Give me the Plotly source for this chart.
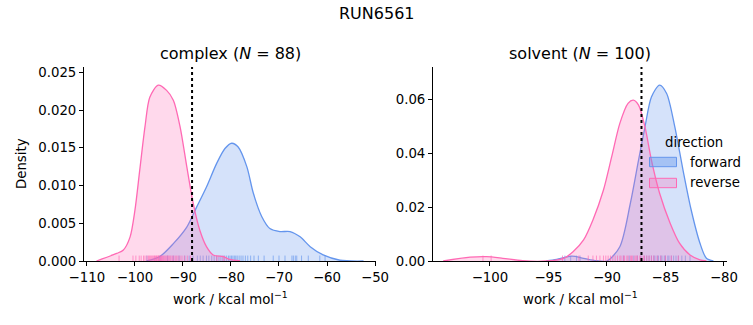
import plotly.graph_objects as go

# ---------------- data ----------------
title_text = "RUN6561"
panel_names = ["complex", "solvent"]
panel_n = [88, 100]
directions = ["forward", "reverse"]

# KDE curves: complex
cx_fwd_x = [-97.6, -94.8, -92.0, -89.2, -87.1, -85.1, -83.0, -81.25, -79.85, -78.5, -76.7, -75.35,
            -73.6, -71.9, -69.8, -67.7, -65.6, -63.5, -60.8, -57.3, -52.4]
cx_fwd_y = [0.0, 0.0006, 0.0023, 0.0045, 0.0072, 0.0098, 0.0129, 0.0149, 0.0156, 0.0151, 0.0125, 0.0090,
            0.0059, 0.0043, 0.0039, 0.0039, 0.0032, 0.0019, 0.0008, 0.0001, 0.0]
cx_rev_x = [-108.0, -103.8, -102.4, -101.0, -100.0, -99.0, -97.9, -96.9, -95.15, -93.4, -92.0, -90.6,
            -89.2, -87.85, -86.5, -85.1, -83.7, -81.6, -80.2, -78.1]
cx_rev_y = [0.0, 0.0010, 0.00146, 0.0032, 0.0067, 0.0120, 0.0178, 0.0217, 0.0233, 0.0226, 0.0213, 0.0178,
            0.0125, 0.0076, 0.0041, 0.0019, 0.0008, 0.00057, 0.0002, 0.0]

# KDE curves: solvent
sv_fwd_x = [-95.2, -94.3, -93.0, -92.0, -90.9, -90.0, -88.9, -88.0, -87.3, -86.75, -86.2, -85.5,
            -84.9, -84.2, -83.5, -82.8, -82.05, -81.5, -80.9]
sv_fwd_y = [0.0, 0.0006, 0.0018, 0.0010, 0.0001, 0.0, 0.0053, 0.0214, 0.0374, 0.0497, 0.0608, 0.0652,
            0.0621, 0.0497, 0.0337, 0.0189, 0.0066, 0.0010, 0.0]
sv_rev_x = [-104.0, -101.7, -100.3, -98.9, -97.2, -95.2, -93.7, -92.9, -92.0, -91.2, -90.3, -89.6,
            -88.9, -88.2, -87.75, -87.3, -86.75, -86.2, -85.5, -84.6, -83.8, -82.9, -82.05, -81.5]
sv_rev_y = [0.0, 0.0014, 0.0016, 0.0010, 0.0001, 0.0, 0.0010, 0.0034, 0.0078, 0.0152, 0.0263, 0.0386,
            0.0510, 0.0584, 0.0596, 0.0578, 0.0497, 0.0374, 0.0251, 0.0140, 0.0066, 0.0022, 0.0004, 0.0]

# rug samples (approximate)
cx_fwd_rug = [-97.5, -94.8, -93.2, -92.0, -90.8, -89.6, -88.7, -87.9, -87.0, -86.4, -85.8, -85.1, -84.6,
              -84.0, -83.5, -83.0, -82.5, -82.1, -81.7, -81.3, -80.9, -80.5, -80.2, -79.9, -79.6, -79.3,
              -79.0, -78.7, -78.3, -77.9, -77.5, -77.0, -76.5, -75.9, -75.2, -74.3, -73.1, -71.2, -70.0,
              -68.75, -67.3, -67.0, -66.6, -66.3, -65.3, -63.9, -61.5, -60.4]
cx_rev_rug = [-103.3, -100.4, -99.8, -99.1, -98.7, -98.2, -97.9, -97.5, -97.2, -97.0, -96.8, -96.6,
              -96.4, -96.2, -96.0, -95.9, -95.7, -95.5, -95.4, -95.2, -95.1, -95.0, -94.8, -94.7, -94.5,
              -94.4, -94.2, -94.1, -93.9, -93.7, -93.5, -93.3, -93.1, -92.9, -92.7, -92.5, -92.2, -91.9,
              -91.6, -91.3, -91.0, -90.6, -90.2, -89.7, -89.1, -88.4, -82.9, -81.5]
sv_fwd_rug = [-93.6, -93.1, -92.6, -92.3, -88.6, -88.1, -87.7, -87.4, -87.1, -86.8, -86.6, -86.4, -86.2,
              -86.0, -85.9, -85.7, -85.6, -85.4, -85.3, -85.1, -85.0, -84.8, -84.7, -84.5, -84.3, -84.1,
              -83.9, -83.6, -83.3, -82.9]
sv_rev_rug = [-100.6, -99.9, -93.8, -92.4, -91.6, -91.2, -90.9, -90.6, -90.3, -90.1, -89.9, -89.7, -89.5,
              -89.3, -89.1, -88.9, -88.8, -88.6, -88.5, -88.3, -88.2, -88.0, -87.9, -87.8, -87.6, -87.5,
              -87.4, -87.2, -87.1, -86.9, -86.8, -86.6, -86.4, -86.2, -86.0, -85.7, -85.4, -85.0, -84.5,
              -83.9]

# free-energy estimates (dotted lines)
dg_est = [-88.1, -87.05]

# ticks
cx_xticks = [-110, -100, -90, -80, -70, -60, -50]
sv_xticks = [-100, -95, -90, -85, -80]
cx_yticks = [0.0, 0.005, 0.010, 0.015, 0.020, 0.025]
sv_yticks = [0.0, 0.02, 0.04, 0.06]

# ---------------- styling ----------------
W, H = 753, 325
FONT = "DejaVu Sans"
FS = 13.3
FS_T = 16
BLUE = "#6495ED"
PINK = "#FF69B4"
BLUE_FILL = "rgba(100,149,237,0.27)"
PINK_FILL = "rgba(255,105,180,0.25)"
BLUE_RUG = "rgba(100,149,237,0.65)"
PINK_RUG = "rgba(255,105,180,0.65)"

def px_x(p):
    return p / W

def px_y(p):
    return 1 - p / H

panels = [
    dict(xd=[84, 376], xr=[-110.6, -49.8], yr=[0, 0.0257], xt=cx_xticks, yt=cx_yticks, yfmt="{:.3f}",
         fwd=(cx_fwd_x, cx_fwd_y, cx_fwd_rug), rev=(cx_rev_x, cx_rev_y, cx_rev_rug)),
    dict(xd=[433, 727], xr=[-104.87, -79.74], yr=[0, 0.0719], xt=sv_xticks, yt=sv_yticks, yfmt="{:.2f}",
         fwd=(sv_fwd_x, sv_fwd_y, sv_fwd_rug), rev=(sv_rev_x, sv_rev_y, sv_rev_rug)),
]

def fmt(v, f):
    return f.format(v).replace("-", "\u2212")

fig = go.Figure()
shapes = []
annotations = []

for i, p in enumerate(panels):
    sfx = "" if i == 0 else str(i + 1)
    xa, ya = "x" + sfx, "y" + sfx
    rug_top = p["yr"][1] * 0.028
    for (cx, cy, rug), line_c, fill_c, rug_c in [
        (p["fwd"], BLUE, BLUE_FILL, BLUE_RUG),
        (p["rev"], PINK, PINK_FILL, PINK_RUG),
    ]:
        fig.add_trace(go.Scatter(x=cx, y=cy, mode="lines", line=dict(color=line_c, width=1.3, shape="spline",
                                 smoothing=0.8), fill="tozeroy", fillcolor=fill_c, xaxis=xa, yaxis=ya,
                                 showlegend=False, hoverinfo="skip"))
        rx, ry = [], []
        for v in rug:
            rx += [v, v, None]
            ry += [0, rug_top, None]
        fig.add_trace(go.Scatter(x=rx, y=ry, mode="lines", line=dict(color=rug_c, width=1),
                                 xaxis=xa, yaxis=ya, showlegend=False, hoverinfo="skip"))
    shapes.append(dict(type="line", xref=xa, yref=ya + " domain", x0=dg_est[i], x1=dg_est[i], y0=0, y1=1,
                       line=dict(color="black", width=2, dash="dot")))

    xlayout = dict(domain=[px_x(p["xd"][0]), px_x(p["xd"][1])], range=p["xr"], anchor=ya, automargin=False,
                   showline=True, linecolor="black", linewidth=1, mirror=False, showgrid=False, zeroline=False,
                   ticks="outside", ticklen=4, tickwidth=1, tickcolor="black",
                   tickvals=p["xt"], ticktext=[fmt(v, "{:d}") for v in p["xt"]],
                   tickfont=dict(family=FONT, size=FS, color="black"))
    ylayout = dict(domain=[px_y(261), px_y(67)], range=p["yr"], anchor=xa, automargin=False,
                   showline=True, linecolor="black", linewidth=1, mirror=False, showgrid=False, zeroline=False,
                   ticks="outside", ticklen=4, tickwidth=1, tickcolor="black",
                   tickvals=p["yt"], ticktext=[fmt(v, p["yfmt"]) for v in p["yt"]],
                   tickfont=dict(family=FONT, size=FS, color="black"))
    fig.update_layout(**{"xaxis" + sfx: xlayout, "yaxis" + sfx: ylayout})

    # panel title
    annotations.append(dict(text=f"{panel_names[i]} (<i>N</i> = {panel_n[i]})", xref="paper", yref="paper",
                            x=px_x((p["xd"][0] + p["xd"][1]) / 2), y=px_y(54), showarrow=False,
                            xanchor="center", yanchor="middle", font=dict(family=FONT, size=FS_T, color="black")))
    # x label
    annotations.append(dict(text="work / kcal mol<sup>\u22121</sup>", xref="paper", yref="paper",
                            x=px_x((p["xd"][0] + p["xd"][1]) / 2), y=px_y(298), showarrow=False,
                            xanchor="center", yanchor="middle", font=dict(family=FONT, size=FS, color="black")))

annotations.append(dict(text="Density", xref="paper", yref="paper", x=px_x(21), y=px_y(164), textangle=-90,
                        showarrow=False, xanchor="center", yanchor="middle",
                        font=dict(family=FONT, size=FS, color="black")))
annotations.append(dict(text=title_text, xref="paper", yref="paper", x=0.5, y=px_y(13), showarrow=False,
                        xanchor="center", yanchor="middle", font=dict(family=FONT, size=FS_T, color="black")))

# legend (drawn manually like the matplotlib figure legend)
annotations.append(dict(text="direction", xref="paper", yref="paper", x=px_x(694), y=px_y(142),
                        showarrow=False, xanchor="center", yanchor="middle",
                        font=dict(family=FONT, size=FS, color="black")))
for j, (lab, fc, lc, yc) in enumerate([(directions[0], "rgba(100,149,237,0.42)", BLUE, 162),
                                        (directions[1], "rgba(255,105,180,0.28)", PINK, 183)]):
    shapes.append(dict(type="rect", xref="paper", yref="paper", x0=px_x(649.5), x1=px_x(676.5),
                       y0=px_y(yc + 4.7), y1=px_y(yc - 4.7), fillcolor=fc, line=dict(color=lc, width=1),
                       layer="above"))
    annotations.append(dict(text=lab, xref="paper", yref="paper", x=px_x(688), y=px_y(yc), showarrow=False,
                            xanchor="left", yanchor="middle", font=dict(family=FONT, size=FS, color="black")))

fig.update_layout(width=W, height=H, margin=dict(l=0, r=0, t=0, b=0), paper_bgcolor="white",
                  plot_bgcolor="white", shapes=shapes, annotations=annotations, showlegend=False,
                  font=dict(family=FONT, size=FS, color="black"))

fig.write_html("out.html", config={"displayModeBar": False},
               post_script="document.body.style.margin='0';document.body.style.overflow='hidden';")
